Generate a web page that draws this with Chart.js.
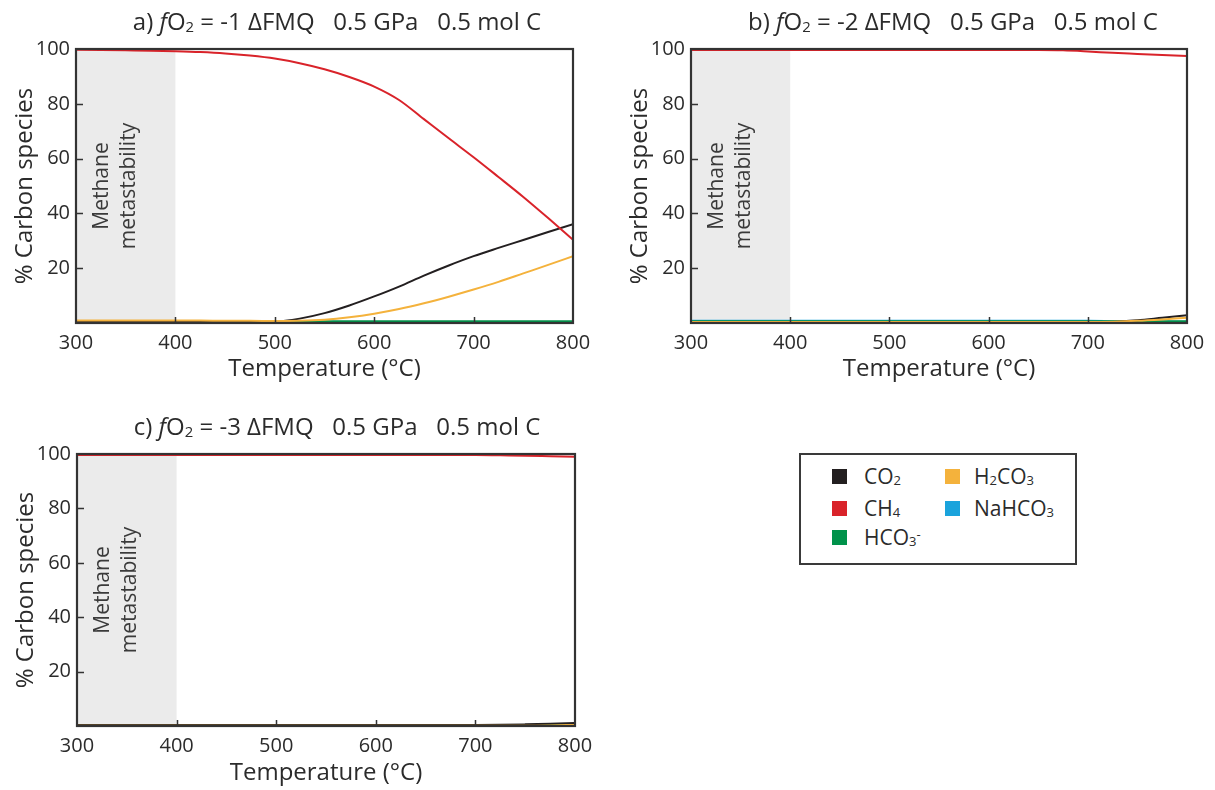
<!DOCTYPE html>
<html>
<head>
<meta charset="utf-8">
<script src="https://cdn.jsdelivr.net/npm/chart.js@4"></script>
<style>
  body{margin:0;background:#fff;width:1215px;height:790px;position:relative;overflow:hidden;font-family:"Open Sans",sans-serif;color:#2b2b2b}
  canvas{position:absolute}
  .ttl{position:absolute;font-size:24px;white-space:pre;transform:translateX(-50%);line-height:1}
  .ttl sub{font-size:62%;vertical-align:-0.12em}
  #legend{position:absolute;left:799px;top:453px;width:278px;height:112px;border:2px solid #3a3a3a;box-sizing:border-box}
  .li{position:absolute;font-size:21px;line-height:1;white-space:pre}
  .li sub{font-size:62%;vertical-align:-0.1em}
  .li sup{font-size:62%;vertical-align:0.5em}
  .sw{position:absolute;width:15px;height:15px}
</style>
</head>
<body>
<canvas id="cA" width="600" height="360" style="left:0;top:30px"></canvas>
<canvas id="cB" width="600" height="360" style="left:615px;top:30px"></canvas>
<canvas id="cC" width="600" height="360" style="left:1px;top:430px"></canvas>
<div id="titles"></div>
<div id="legend"></div>
<script>
// temperature grid (°C) and axis ticks
const temps=[300,325,350,375,400,425,450,475,500,525,550,575,600,625,650,675,700,725,750,775,800];
const xTicks=[300,400,500,600,700,800];
const yTicks=[20,40,60,80,100];
const bandRange=[300,400];

// a) fO2 = -1 ΔFMQ
const ch4A  =[99.7,99.6,99.5,99.4,99.2,98.9,98.4,97.6,96.5,94.8,92.6,89.8,86.3,81.4,74.4,67.4,60.5,53.3,46.0,38.3,30.4];
const co2A  =[0.4,0.4,0.4,0.4,0.4,0.4,0.4,0.4,0.5,1.6,3.6,6.4,9.7,13.3,17.3,21.0,24.4,27.4,30.3,33.2,36.1];
const h2co3A=[0.9,0.9,0.9,0.9,0.9,0.9,0.8,0.8,0.7,0.8,1.2,2.1,3.4,5.1,7.2,9.6,12.2,15.0,18.1,21.2,24.4];
const hco3A =[0.5,0.5,0.5,0.5,0.5,0.5,0.5,0.5,0.5,0.5,0.5,0.5,0.5,0.5,0.5,0.5,0.5,0.5,0.5,0.5,0.5];
const nahco3A=[0.1,0.1,0.1,0.1,0.1,0.1,0.1,0.1,0.1,0.1,0.1,0.1,0.1,0.1,0.1,0.1,0.1,0.1,0.1,0.1,0.1];

// b) fO2 = -2 ΔFMQ
const ch4B  =[99.6,99.6,99.6,99.6,99.6,99.6,99.6,99.6,99.6,99.6,99.6,99.6,99.6,99.6,99.6,99.5,99.1,98.6,98.2,97.8,97.4];
const co2B  =[0.3,0.3,0.3,0.3,0.3,0.3,0.3,0.3,0.3,0.3,0.3,0.3,0.3,0.3,0.3,0.3,0.3,0.4,1.0,1.9,2.8];
const h2co3B=[0.4,0.4,0.4,0.4,0.4,0.4,0.4,0.4,0.4,0.4,0.4,0.4,0.4,0.4,0.4,0.4,0.4,0.5,0.8,1.3,1.9];
const hco3B =[0.5,0.5,0.5,0.5,0.5,0.5,0.5,0.5,0.5,0.5,0.5,0.5,0.5,0.5,0.5,0.5,0.5,0.5,0.5,0.5,0.5];
const nahco3B=[0.8,0.8,0.8,0.8,0.8,0.8,0.8,0.8,0.8,0.8,0.8,0.8,0.8,0.8,0.8,0.8,0.8,0.7,0.6,0.5,0.5];

// c) fO2 = -3 ΔFMQ
const ch4C  =[99.6,99.6,99.6,99.6,99.6,99.6,99.6,99.6,99.6,99.6,99.6,99.6,99.6,99.6,99.6,99.6,99.6,99.5,99.4,99.2,99.0];
const co2C  =[0.4,0.4,0.4,0.4,0.4,0.4,0.4,0.4,0.4,0.4,0.4,0.4,0.4,0.4,0.4,0.4,0.4,0.45,0.6,0.8,1.1];
const h2co3C=[0.1,0.1,0.1,0.1,0.1,0.1,0.1,0.1,0.1,0.1,0.1,0.1,0.1,0.1,0.1,0.1,0.1,0.1,0.1,0.2,0.4];
const hco3C =[0.2,0.2,0.2,0.2,0.2,0.2,0.2,0.2,0.2,0.2,0.2,0.2,0.2,0.2,0.2,0.2,0.2,0.2,0.2,0.2,0.2];
const nahco3C=[0.1,0.1,0.1,0.1,0.1,0.1,0.1,0.1,0.1,0.1,0.1,0.1,0.1,0.1,0.1,0.1,0.1,0.1,0.1,0.1,0.1];

const species=['CO₂','CH₄','HCO₃⁻','H₂CO₃','NaHCO₃'];
const speciesHtml=['CO<sub>2</sub>','CH<sub>4</sub>','HCO<sub>3</sub><sup>-</sup>','H<sub>2</sub>CO<sub>3</sub>','NaHCO<sub>3</sub>'];
const speciesColors=['#231f20','#d9232a','#00924a','#f4b23c','#1aa3dc'];
const panelTitles=['a) <i>f</i>O<sub>2</sub> = -1 ΔFMQ   0.5 GPa   0.5 mol C','b) <i>f</i>O<sub>2</sub> = -2 ΔFMQ   0.5 GPa   0.5 mol C','c) <i>f</i>O<sub>2</sub> = -3 ΔFMQ   0.5 GPa   0.5 mol C'];

const FONT='"Open Sans", sans-serif';
const INK='#2b2b2b';

// gray band, label, frame and inner ticks
const decor={id:'decor',
  beforeDatasetsDraw(c){
    const {ctx,chartArea:a,scales:{x,y}}=c;
    const x0=x.getPixelForValue(bandRange[0]),x1=x.getPixelForValue(bandRange[1]);
    ctx.save();
    ctx.fillStyle='#ebebeb';
    ctx.fillRect(x0,a.top,x1-x0,a.bottom-a.top);
    ctx.fillStyle='#3a3a3a';ctx.font='21px '+FONT;ctx.textAlign='center';ctx.textBaseline='alphabetic';
    ctx.translate((x0+x1)/2,(a.top+a.bottom)/2);ctx.rotate(-Math.PI/2);
    ctx.fillText('Methane',0,-18);
    ctx.fillText('metastability',0,9);
    ctx.restore();
  },
  afterDatasetsDraw(c){
    const {ctx,chartArea:a,scales:{x,y}}=c;
    ctx.save();
    ctx.strokeStyle='#333';ctx.lineWidth=2.2;
    ctx.strokeRect(a.left,a.top,a.right-a.left,a.bottom-a.top);
    ctx.beginPath();
    xTicks.slice(1,-1).forEach(v=>{const p=Math.round(x.getPixelForValue(v))+0.5;ctx.moveTo(p,a.bottom);ctx.lineTo(p,a.bottom-6);});
    yTicks.slice(0,-1).forEach(v=>{const p=Math.round(y.getPixelForValue(v))+0.5;ctx.moveTo(a.left,p);ctx.lineTo(a.left+7,p);});
    ctx.lineWidth=1.5;ctx.stroke();
    ctx.restore();
  }
};

// draw order: red on top, then orange, black, green, blue
const drawOrder=[2,0,3,1,4];

function makePanel(id,series,pad,xTitlePad){
  const datasets=series.map((vals,i)=>({
    label:species[i],
    data:temps.map((t,k)=>({x:t,y:vals[k]})),
    borderColor:speciesColors[i],
    borderWidth:i===2?3:2,
    order:drawOrder[i],
  }));
  return new Chart(document.getElementById(id),{
    type:'line',
    data:{datasets},
    plugins:[decor],
    options:{
      responsive:false,animation:false,
      layout:{padding:pad},
      plugins:{legend:{display:false},tooltip:{enabled:false}},
      elements:{point:{radius:0},line:{cubicInterpolationMode:'monotone',tension:0.4}},
      scales:{
        x:{type:'linear',min:300,max:800,
          afterBuildTicks:s=>{s.ticks=xTicks.map(v=>({value:v}));},
          grid:{display:false,drawTicks:false},border:{display:false},
          ticks:{color:INK,font:{family:FONT,size:20},padding:8,maxRotation:0},
          title:{display:true,text:'Temperature (°C)',color:INK,font:{family:FONT,size:24},padding:{top:0,bottom:xTitlePad}},
          afterFit:s=>{s.height=pad.xh;}},
        y:{type:'linear',min:0,max:100,
          afterBuildTicks:s=>{s.ticks=yTicks.map(v=>({value:v}));},
          grid:{display:false,drawTicks:false},border:{display:false},
          ticks:{color:INK,font:{family:FONT,size:20},padding:6},
          title:{display:true,text:'% Carbon species',color:INK,font:{family:FONT,size:24},padding:{top:10.6,bottom:0}},
          afterFit:s=>{s.width=76;}}
      }
    }
  });
}

makePanel('cA',[co2A,ch4A,hco3A,h2co3A,nahco3A],{left:0,right:27,top:19,bottom:0,xh:67},6.6);
makePanel('cB',[co2B,ch4B,hco3B,h2co3B,nahco3B],{left:0,right:28,top:19,bottom:0,xh:67},6.6);
makePanel('cC',[co2C,ch4C,hco3C,h2co3C,nahco3C],{left:0,right:26,top:24,bottom:0,xh:64},2.6);

// panel titles
const titlePos=[[337,9],[953,9],[337,414]];
document.getElementById('titles').innerHTML=panelTitles.map((t,i)=>`<div class="ttl" style="left:${titlePos[i][0]}px;top:${titlePos[i][1]}px">${t}</div>`).join('');

// legend (two columns)
const legPos=[[31,63,23],[31,63,55],[31,63,84],[144,173,23],[144,173,55]];
document.getElementById('legend').innerHTML=speciesHtml.map((s,i)=>{
  const [sx,tx,cy]=legPos[i];
  return `<div class="sw" style="left:${sx}px;top:${cy-9}px;background:${speciesColors[i]}"></div><div class="li" style="left:${tx}px;top:${cy-12}px">${s}</div>`;
}).join('');
</script>
</body>
</html>
